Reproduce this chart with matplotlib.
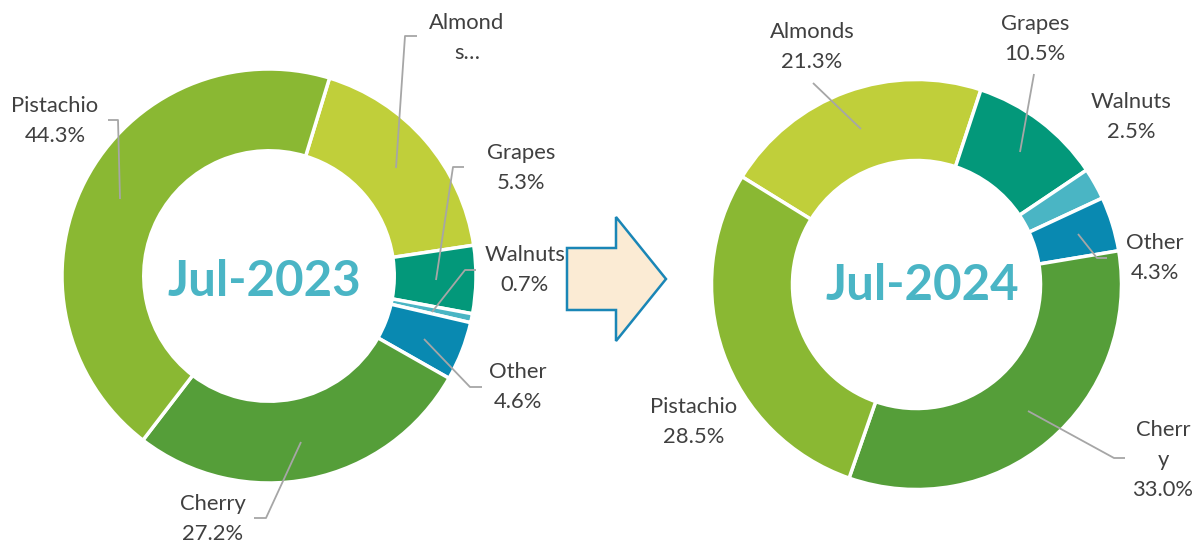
import matplotlib.pyplot as plt
from matplotlib.patches import Polygon

plt.rcParams['font.family'] = ['Lato', 'DejaVu Sans']

# data
fruits = ['Almonds', 'Grapes', 'Walnuts', 'Other', 'Cherry', 'Pistachio']
share_2023 = [17.9, 5.3, 0.7, 4.6, 27.2, 44.3]
share_2024 = [21.3, 10.5, 2.5, 4.3, 33.0, 28.5]
periods = ['Jul-2023', 'Jul-2024']

colors = ['#C0CF3A', '#03987A', '#4AB5C4', '#0989B1', '#559E39', '#8AB833']
text_col = '#404040'
line_col = '#A6A6A6'
W, H = 1195, 543

# label layout in pixels (x, y from top), text template, leader line points
# (the 2023 almonds label is cut off in the original, value not shown)
labels_2023 = {
    'Almonds': ((467, 38), 'Almond\ns…', [(417, 36), (405, 36), (396, 168)]),
    'Grapes': ((521, 168), 'Grapes\n{v}', [(464, 167), (453, 167), (436, 280)]),
    'Walnuts': ((525, 270), 'Walnuts\n{v}', [(476, 270), (465, 270), (432, 312)]),
    'Other': ((518, 387), 'Other\n{v}', [(482, 387), (470, 387), (424, 339)]),
    'Cherry': ((213, 519), 'Cherry\n{v}', [(254, 518), (266, 518), (301, 442)]),
    'Pistachio': ((55, 121), 'Pistachio\n{v}', [(108, 120), (118, 120), (120, 199)]),
}
labels_2024 = {
    'Almonds': ((812, 47), 'Almonds\n{v}', [(813, 83), (861, 129)]),
    'Grapes': ((1035, 39), 'Grapes\n{v}', [(1034, 74), (1020, 152)]),
    'Walnuts': ((1131, 117), 'Walnuts\n{v}', None),
    'Other': ((1155, 258), 'Other\n{v}', [(1107, 258), (1097, 258), (1078, 234)]),
    'Cherry': ((1163, 460), 'Cherr\ny\n{v}', [(1125, 458), (1114, 458), (1028, 411)]),
    'Pistachio': ((694, 422), 'Pistachio\n{v}', None),
}

fig = plt.figure(figsize=(11.95, 5.43), dpi=100)
ax = fig.add_axes([0, 0, 1, 1])


def donut(values, center, radius, start, labels, title, title_pos):
    cx, cy = center
    ax.pie(values, radius=radius, center=(cx, H - cy), startangle=start,
           counterclock=False, colors=colors, frame=True,
           wedgeprops=dict(width=radius * 0.395, edgecolor='white', linewidth=2.5))
    for name, val in zip(fruits, values):
        (lx, ly), tmpl, pts = labels[name]
        ax.text(lx, H - ly, tmpl.format(v=f'{val:.1f}%'), ha='center', va='center',
                fontsize=15.8, color=text_col, linespacing=1.62)
        if pts:
            ax.plot([p[0] for p in pts], [H - p[1] for p in pts],
                    color=line_col, lw=1.3, solid_capstyle='butt')
    ax.text(title_pos[0], H - title_pos[1], title, ha='center', va='center',
            fontsize=35.5, fontweight='bold', color='#4AB5C5')


donut(share_2023, (269, 276), 207, 73, labels_2023, periods[0], (264, 282))
donut(share_2024, (916.5, 284.5), 205, 148.3, labels_2024, periods[1], (922, 285))

# arrow between the two charts
arrow = [(567, 248), (616, 248), (616, 217), (666, 279), (616, 341), (616, 310), (567, 310)]
ax.add_patch(Polygon([(x, H - y) for x, y in arrow], closed=True,
                     facecolor='#FBEBD4', edgecolor='#1A86B6', lw=1.8))

ax.set_xlim(0, W)
ax.set_ylim(0, H)
ax.set_aspect('equal')
ax.axis('off')

fig.savefig('out.png', dpi=100)
